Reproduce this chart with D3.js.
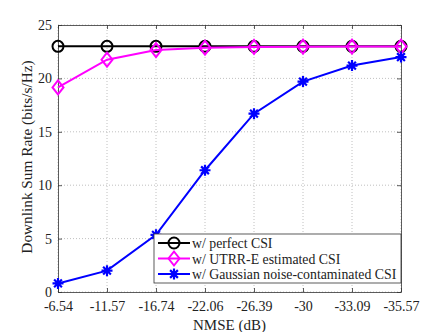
<!DOCTYPE html>
<html>
<head>
<meta charset="utf-8">
<script src="https://cdn.jsdelivr.net/npm/d3@7.9.0/dist/d3.min.js"></script>
<style>
  body { margin: 0; background: #fff; }
  svg { display: block; font-family: "Liberation Serif", "Times New Roman", serif; }
</style>
</head>
<body>
<svg width="443" height="332"></svg>
<script>
// x categories (NMSE in dB, equally spaced)
const nmseLabels = ['-6.54', '-11.57', '-16.74', '-22.06', '-26.39', '-30', '-33.09', '-35.57'];
const perfectCSI = [23, 23, 23, 23, 23, 23, 23, 23];
const utrrCSI = [19.15, 21.75, 22.65, 22.88, 22.95, 22.97, 22.98, 22.98];
const gaussCSI = [0.8, 2.0, 5.35, 11.4, 16.7, 19.7, 21.2, 22.0];
const yTicks = [0, 5, 10, 15, 20, 25];
const seriesNames = ['w/ perfect CSI', 'w/ UTRR-E estimated CSI', 'w/ Gaussian noise-contaminated CSI'];

const margin = { left: 58, right: 42, top: 25, bottom: 40 };
const width = 443, height = 332;
const svg = d3.select('svg');

let x = d3.scalePoint().domain(nmseLabels).range([margin.left, width - margin.right]);
let y = d3.scaleLinear().domain([0, 25]).range([height - margin.bottom, margin.top]);

// grid
let grid = svg.append('g').attr('stroke', '#b0b0b0').attr('stroke-width', 0.8).attr('stroke-dasharray', '1,2');
nmseLabels.forEach((d) => {
    grid.append('line').attr('x1', x(d)).attr('x2', x(d)).attr('y1', y(0)).attr('y2', y(25));
});
yTicks.forEach((d) => {
    grid.append('line').attr('x1', x.range()[0]).attr('x2', x.range()[1]).attr('y1', y(d)).attr('y2', y(d));
});

// axes
let xAxis = svg.append('g').attr('transform', `translate(0,${y(0)})`)
    .call(d3.axisBottom(x).tickSizeInner(-4).tickSizeOuter(0).tickPadding(9));
let xAxisTop = svg.append('g').attr('transform', `translate(0,${y(25)})`)
    .call(d3.axisTop(x).tickSizeInner(-4).tickSizeOuter(0).tickFormat(''));
let yAxis = svg.append('g').attr('transform', `translate(${x.range()[0]},0)`)
    .call(d3.axisLeft(y).tickValues(yTicks).tickSizeInner(-4).tickSizeOuter(0).tickPadding(6));
let yAxisRight = svg.append('g').attr('transform', `translate(${x.range()[1]},0)`)
    .call(d3.axisRight(y).tickValues(yTicks).tickSizeInner(-4).tickSizeOuter(0).tickFormat(''));
[xAxis, xAxisTop, yAxis, yAxisRight].forEach((g) => {
    g.selectAll('path, line').attr('stroke', '#333').attr('stroke-width', 0.8);
    g.selectAll('text').attr('font-size', 14).attr('fill', '#222').attr('font-family', '"Liberation Serif", serif');
});

// axis labels
svg.append('text').attr('x', (x.range()[0] + x.range()[1]) / 2).attr('y', 330)
    .attr('text-anchor', 'middle').attr('font-size', 15).attr('fill', '#222').text('NMSE (dB)');
svg.append('text').attr('transform', `translate(32,157) rotate(-90)`)
    .attr('text-anchor', 'middle').attr('font-size', 15.3).attr('fill', '#222').text('Downlink Sum Rate (bits/s/Hz)');

const line = d3.line().x((d, i) => x(nmseLabels[i])).y((d) => y(d));

function circleMarker(g, cx, cy, color) {
    g.append('circle').attr('cx', cx).attr('cy', cy).attr('r', 5.5)
        .attr('fill', 'none').attr('stroke', color).attr('stroke-width', 2);
}
function diamondMarker(g, cx, cy, color) {
    g.append('path').attr('d', `M${cx},${cy - 7}L${cx + 5.5},${cy}L${cx},${cy + 7}L${cx - 5.5},${cy}Z`)
        .attr('fill', 'none').attr('stroke', color).attr('stroke-width', 2);
}
function starMarker(g, cx, cy, color) {
    let r = 5.5;
    let p = '';
    for (let k = 0; k < 4; k++) {
        let a = k * Math.PI / 4;
        p += `M${cx - r * Math.cos(a)},${cy - r * Math.sin(a)}L${cx + r * Math.cos(a)},${cy + r * Math.sin(a)}`;
    }
    g.append('path').attr('d', p).attr('stroke', color).attr('stroke-width', 2.2).attr('fill', 'none');
}

const series = [
    { data: perfectCSI, color: '#000000', marker: circleMarker },
    { data: utrrCSI, color: '#ff00ff', marker: diamondMarker },
    { data: gaussCSI, color: '#0000ff', marker: starMarker },
];

series.forEach((s) => {
    let g = svg.append('g');
    g.append('path').attr('d', line(s.data)).attr('fill', 'none')
        .attr('stroke', s.color).attr('stroke-width', 2);
    s.data.forEach((d, i) => s.marker(g, x(nmseLabels[i]), y(d), s.color));
});

// legend
let lx = 154, ly = 234, lw = x.range()[1] - 154, lh = 49;
let legend = svg.append('g');
legend.append('rect').attr('x', lx).attr('y', ly).attr('width', lw).attr('height', lh)
    .attr('fill', '#fff').attr('stroke', '#333').attr('stroke-width', 0.8);
series.forEach((s, i) => {
    let cy = ly + 9 + i * 15.5;
    legend.append('line').attr('x1', lx + 4).attr('x2', lx + 36).attr('y1', cy).attr('y2', cy)
        .attr('stroke', s.color).attr('stroke-width', 2);
    s.marker(legend, lx + 20, cy, s.color);
    legend.append('text').attr('x', lx + 38).attr('y', cy + 5).attr('font-size', 13.8)
        .attr('fill', '#222').text(seriesNames[i]);
});
</script>
</body>
</html>
